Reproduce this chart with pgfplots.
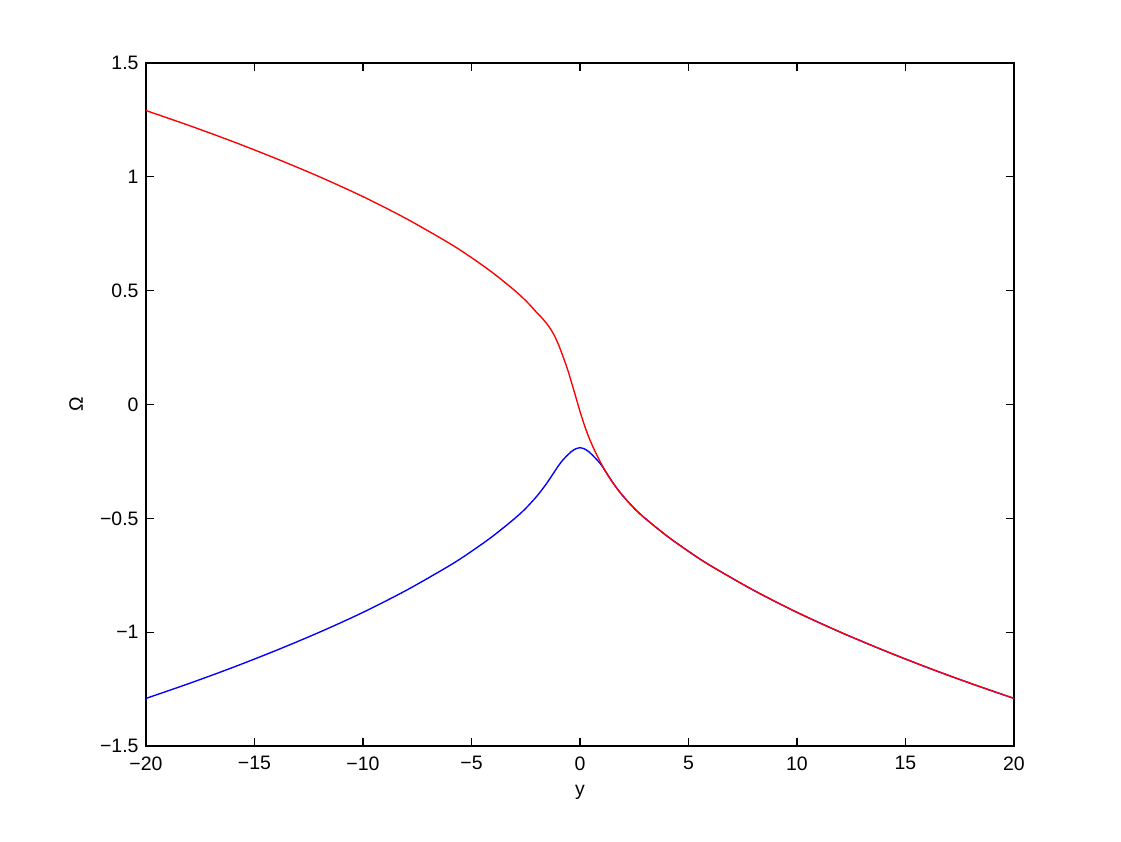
\documentclass[border=0pt]{standalone}
\usepackage{pgfplots}
\pgfplotsset{compat=1.18}
\usepackage{fontspec}
\setmainfont{Liberation Sans}

\begin{document}
\begin{tikzpicture}
% page frame, 1 px = 0.55pt
\path[fill=white] (-80.3pt,-52.8pt) rectangle (536.25pt,410.3pt);
\begin{axis}[
    at={(0,0)}, anchor=south west,
    scale only axis,
    width=477.4pt, height=375.65pt,
    xmin=-20, xmax=20, ymin=-1.5, ymax=1.5,
    xtick={-20,-15,...,20},
    xticklabels={−20,−15,−10,−5,0,5,10,15,20},
    ytick={-1.5,-1,-0.5,0,0.5,1,1.5},
    yticklabels={−1.5,−1,−0.5,0,0.5,1,1.5},
    tick align=inside,
    major tick length=4.4pt,
    tick style={black, line width=0.6pt},
    axis line style={line width=0.6pt},
    xticklabel shift=2.3pt,
    yticklabel shift=0.6pt,
    tick label style={font=\fontsize{10.7}{12}\selectfont},
    label style={font=\fontsize{10.7}{12}\selectfont},
    xlabel={y},
    ylabel={Ω},
    xlabel style={at={(axis description cs:0.5,-0.0719)}, anchor=base},
    ylabel style={at={(axis description cs:-0.0806,0.5)}, anchor=center},
]
% lower branch
\addplot[blue, line width=0.75pt, smooth, tension=0.5] coordinates {
(-20,-1.291) (-18,-1.225) (-16,-1.155) (-14,-1.080) (-12,-1.000)
(-10,-0.913) (-8,-0.816) (-6,-0.707) (-5,-0.645) (-4,-0.577)
(-3,-0.500) (-2.5,-0.456) (-2,-0.404) (-1.6,-0.355) (-1.3,-0.313)
(-1.0,-0.270) (-0.8,-0.245) (-0.6,-0.225) (-0.4,-0.207) (-0.2,-0.195)
(0,-0.190) (0.2,-0.195) (0.4,-0.207) (0.6,-0.225) (0.8,-0.245)
(1.0,-0.268) (1.3,-0.312) (1.6,-0.355) (2,-0.404)
(2.5,-0.456) (3,-0.500) (4,-0.577) (5,-0.645) (6,-0.707)
(8,-0.816) (10,-0.913) (12,-1.000) (14,-1.080) (16,-1.155)
(18,-1.225) (20,-1.291)
};
% upper branch
\addplot[red, line width=0.75pt, smooth, tension=0.5] coordinates {
(-20,1.291) (-18,1.225) (-16,1.155) (-14,1.080) (-12,1.000)
(-10,0.913) (-8,0.816) (-6,0.707) (-5,0.645) (-4,0.577)
(-3,0.500) (-2.5,0.456) (-2.2,0.426) (-2,0.404) (-1.8,0.385)
(-1.6,0.363) (-1.4,0.338) (-1.2,0.306) (-1.0,0.265) (-0.8,0.215)
(-0.6,0.162) (-0.4,0.100) (-0.2,0.035) (0,-0.030) (0.2,-0.090)
(0.4,-0.142) (0.6,-0.187) (0.8,-0.227) (1.0,-0.264) (1.2,-0.298)
(1.4,-0.328) (1.6,-0.355) (1.8,-0.381) (2,-0.404)
(2.5,-0.456) (3,-0.500) (4,-0.577) (5,-0.645) (6,-0.707)
(8,-0.816) (10,-0.913) (12,-1.000) (14,-1.080) (16,-1.155)
(18,-1.225) (20,-1.291)
};
\end{axis}
\end{tikzpicture}
\end{document}
